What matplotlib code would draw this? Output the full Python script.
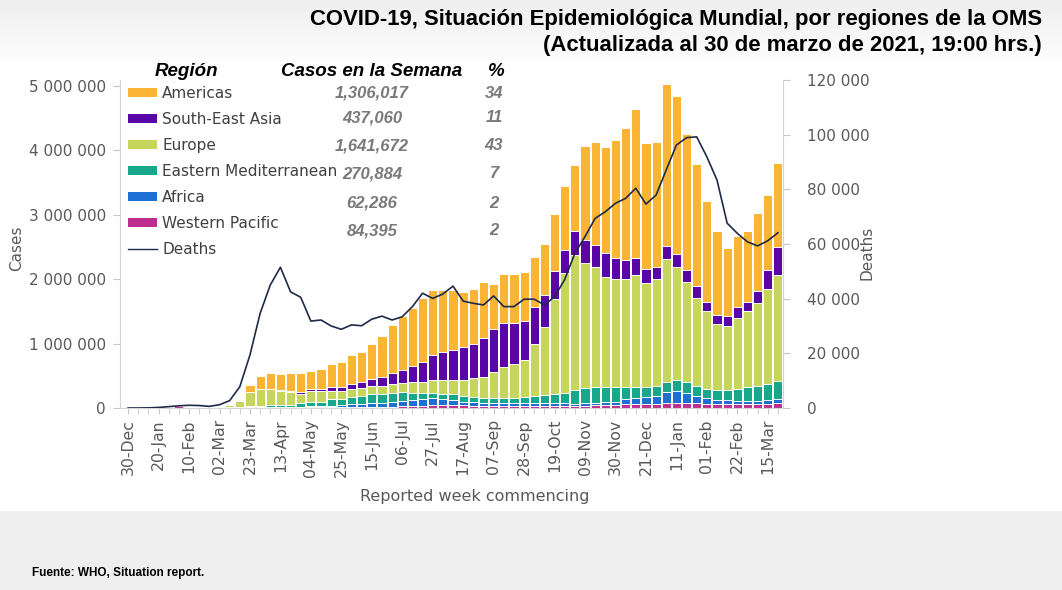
import numpy as np
import matplotlib
matplotlib.use('Agg')
import matplotlib.pyplot as plt
from matplotlib.patches import Patch
from matplotlib.lines import Line2D
from matplotlib.ticker import FuncFormatter, FixedLocator

# weekly new cases by WHO region (thousands), 30-Dec-2019 .. 22-Mar-2021
wp = [0.1, 0.1, 0.3, 2, 12, 24, 20, 8, 6, 6, 6, 7, 6, 11, 10, 10, 8, 10, 15, 12,
      10, 10, 10, 10, 12, 15, 20, 25, 30, 35, 40, 45, 45, 40, 35, 30, 30, 30, 30, 30,
      30, 30, 30, 33, 30, 36, 47, 47, 47, 57, 55, 60, 65, 75, 85, 75, 70, 62, 57, 57,
      55, 57, 57, 62, 84.395]
afr = [0, 0, 0, 0, 0, 0, 0, 0, 0, 0, 0.1, 1, 2, 4, 6, 7, 9, 10, 15, 18,
       22, 30, 45, 50, 60, 70, 80, 90, 90, 100, 110, 90, 79, 60, 55, 50, 45, 45, 45, 45,
       40, 40, 40, 40, 35, 37, 36, 41, 51, 78, 105, 115, 121, 175, 180, 165, 116, 88, 67, 63,
       55, 53, 53, 62, 62.286]
emr = [0, 0, 0, 0, 0, 0, 0, 0, 1, 6, 8, 10, 17, 20, 25, 30, 35, 50, 65, 70,
       103, 105, 120, 130, 143, 140, 135, 130, 120, 105, 90, 90, 86, 90, 80, 75, 75, 75, 85, 100,
       120, 130, 145, 162, 215, 237, 247, 242, 232, 190, 165, 150, 149, 160, 175, 160, 149, 150, 161, 165,
       190, 210, 225, 246, 270.884]
eur = [0, 0, 0, 0, 0, 0, 0, 0, 2, 12, 30, 85, 225, 255, 249, 223, 193, 155, 165, 162,
       127, 113, 115, 125, 125, 115, 145, 145, 170, 170, 195, 210, 225, 245, 290, 325, 410, 480, 530, 570,
       800, 1050, 1475, 1855, 2100, 1940, 1860, 1710, 1670, 1675, 1745, 1615, 1665, 1900, 1750, 1560, 1365, 1200, 1015, 985,
       1100, 1180, 1295, 1480, 1641.672]
sea = [0, 0, 0, 0, 0, 0, 0, 0, 0, 0, 0.1, 1, 3, 5, 10, 10, 15, 20, 30, 38,
       58, 72, 80, 95, 110, 140, 160, 200, 240, 310, 385, 430, 465, 505, 530, 610, 660, 690, 630, 605,
       570, 500, 440, 360, 370, 360, 340, 370, 330, 300, 260, 220, 190, 210, 200, 180, 190, 150, 150, 150,
       160, 150, 180, 290, 437.06]
amr = [0, 0, 0, 0, 0, 0, 0, 0, 0, 1, 3, 20, 107, 205, 250, 240, 290, 295, 290, 300,
       360, 390, 460, 460, 550, 640, 750, 830, 900, 980, 1010, 965, 930, 860, 850, 860, 700, 760, 760, 760,
       790, 800, 880, 1000, 1020, 1460, 1600, 1640, 1830, 2050, 2310, 1960, 1940, 2510, 2450, 2110, 1890, 1560, 1300, 1060,
       1110, 1090, 1220, 1170, 1306.017]

# weekly deaths (thousands)
deaths = [0, 0, 0.05, 0.2, 0.5, 0.8, 1.0, 0.9, 0.6, 1.2, 2.7, 7.8, 19.4, 34.6, 45.0, 51.5, 42.5, 40.5, 31.8, 32.2,
          30.0, 28.8, 30.4, 30.1, 32.5, 33.6, 32.2, 33.4, 37.1, 42.0, 40.1, 41.7, 44.6, 39.1, 38.3, 37.7, 41.0, 37.1, 37.1, 39.8,
          39.8, 37.7, 40.7, 47.0, 56.6, 62.7, 69.4, 71.8, 74.9, 76.7, 80.4, 74.6, 77.9, 87.1, 96.2, 98.9, 99.2, 91.9, 83.4, 67.6,
          63.9, 60.8, 59.3, 61.2, 64.1]

tick_labels = ['30-Dec', '20-Jan', '10-Feb', '02-Mar', '23-Mar', '13-Apr', '04-May', '25-May',
               '15-Jun', '06-Jul', '27-Jul', '17-Aug', '07-Sep', '28-Sep', '19-Oct', '09-Nov',
               '30-Nov', '21-Dec', '11-Jan', '01-Feb', '22-Feb', '15-Mar']

regions = ['Americas', 'South-East Asia', 'Europe', 'Eastern Mediterranean', 'Africa', 'Western Pacific']
week_cases = ['1,306,017', '437,060', '1,641,672', '270,884', '62,286', '84,395']
week_pct = ['34', '11', '43', '7', '2', '2']

colors = {'Americas': '#FBB534', 'South-East Asia': '#5A06A6', 'Europe': '#C6D55C',
          'Eastern Mediterranean': '#17A88B', 'Africa': '#1E6FD3', 'Western Pacific': '#BE2E8E'}
line_color = '#1E2A48'

W, H = 1062, 590
fig = plt.figure(figsize=(W / 100, H / 100), dpi=100)

# slide background
bg = fig.add_axes([0, 0, 1, 1], zorder=-10)
rows = np.ones(H)
yy = np.arange(H)
rows = np.where(yy < 70, 0.93 + 0.07 * yy / 70, rows)
rows = np.where(yy > 510, 0.935, rows)
bg.imshow(rows[:, None] * np.ones((1, 20)), cmap='gray', vmin=0, vmax=1, aspect='auto',
          extent=[0, 1, 0, 1])
bg.axis('off')


def fx(px):
    return px / W


def fy(py):
    return 1 - py / H


ax = fig.add_axes([fx(120), fy(408), 663 / W, 328 / H])
ax.set_facecolor('none')
x = np.arange(len(amr))

stack = [('Western Pacific', wp), ('Africa', afr), ('Eastern Mediterranean', emr),
         ('Europe', eur), ('South-East Asia', sea), ('Americas', amr)]
bottom = np.zeros(len(x))
for name, vals in stack:
    v = np.array(vals) * 1000
    ax.bar(x, v, width=0.9, bottom=bottom, color=colors[name], edgecolor='white', linewidth=0.7)
    bottom += v

ax.set_xlim(-0.8, 64.5)
ax.set_ylim(0, 5.09e6)
space_fmt = FuncFormatter(lambda v, _: f'{int(round(v)):,}'.replace(',', ' '))
ax.yaxis.set_major_locator(FixedLocator(np.arange(0, 5.01e6, 1e6)))
ax.yaxis.set_major_formatter(space_fmt)
ax.xaxis.set_major_locator(FixedLocator(np.arange(0, 64, 3)))
ax.xaxis.set_minor_locator(FixedLocator(x))
ax.set_xticklabels(tick_labels, rotation=90)

ax2 = ax.twinx()
ax2.plot(x, np.array(deaths) * 1000, color=line_color, lw=1.2)
ax2.set_ylim(0, 120000)
ax2.yaxis.set_major_locator(FixedLocator(np.arange(0, 120001, 20000)))
ax2.yaxis.set_major_formatter(space_fmt)

for a in (ax, ax2):
    for s in a.spines.values():
        s.set_color('#d4d4d4')
    a.spines['top'].set_visible(False)
ax.spines['right'].set_visible(False)
ax2.spines['left'].set_visible(False)
ax2.spines['bottom'].set_visible(False)

ax.tick_params(axis='y', length=5, color='#c8c8c8', labelcolor='#595959', labelsize=11, pad=5)
ax.tick_params(axis='x', which='both', length=4, color='#c8c8c8', labelcolor='#595959', labelsize=11.3, pad=4)
ax2.tick_params(axis='y', length=5, color='#c8c8c8', labelcolor='#595959', labelsize=11, pad=12)

fig.text(fx(17), fy(248), 'Cases', rotation=90, ha='center', va='center', color='#595959', fontsize=11)
fig.text(fx(867), fy(253), 'Deaths', rotation=90, ha='center', va='center', color='#595959', fontsize=11)
fig.text(fx(475), fy(496), 'Reported week commencing', ha='center', va='center', color='#595959', fontsize=11.5)

# legend table
handles = [Patch(facecolor=colors[r], edgecolor='none') for r in regions]
handles.append(Line2D([], [], color=line_color, lw=1))
leg = ax2.legend(handles, regions + ['Deaths'], loc='upper left', bbox_to_anchor=(fx(128), fy(86)),
                 bbox_transform=fig.transFigure, frameon=False, fontsize=11, handlelength=1.9,
                 handleheight=0.5, handletextpad=0.35, labelspacing=0.72, borderpad=0, borderaxespad=0,
                 labelcolor='#404040')

head_font = ['Liberation Sans Narrow', 'Liberation Sans', 'DejaVu Sans']
fig.text(fx(186), fy(71), 'Región', ha='center', va='center', fontsize=13.5, fontweight='bold',
         style='italic', family=head_font)
fig.text(fx(372), fy(71), 'Casos en la Semana', ha='center', va='center', fontsize=13.5, fontweight='bold',
         style='italic', family=head_font)
fig.text(fx(496), fy(71), '%', ha='center', va='center', fontsize=13.5, fontweight='bold',
         style='italic', family=head_font)
num_y = [93, 118, 146, 174, 203, 231]
for yv, c, p in zip(num_y, week_cases, week_pct):
    fig.text(fx(372), fy(yv), c, ha='center', va='center', fontsize=12, fontweight='bold',
             style='italic', color='#7a7a7a', family=head_font)
    fig.text(fx(494), fy(yv), p, ha='center', va='center', fontsize=12, fontweight='bold',
             style='italic', color='#7a7a7a', family=head_font)

fig.text(fx(1042), fy(20), 'COVID-19, Situación Epidemiológica Mundial, por regiones de la OMS',
         ha='right', va='center', fontsize=15.9, fontweight='bold', family=head_font)
fig.text(fx(1042), fy(45), '(Actualizada al 30 de marzo de 2021, 19:00 hrs.)',
         ha='right', va='center', fontsize=15.9, fontweight='bold', family=head_font)
fig.text(fx(32), fy(573), 'Fuente: WHO, Situation report.', ha='left', va='center', fontsize=8.5,
         fontweight='bold', family=['Liberation Sans', 'DejaVu Sans'])

fig.savefig('out.png', dpi=100)
